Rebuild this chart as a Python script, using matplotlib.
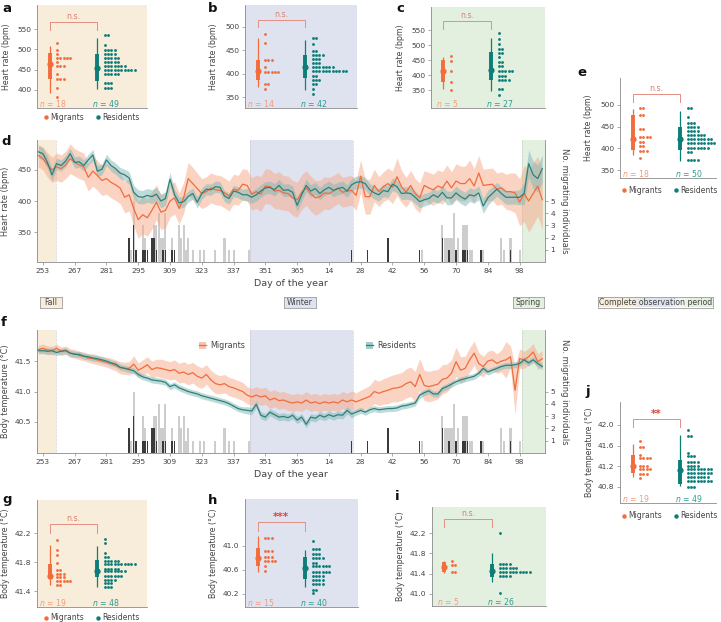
import numpy as np
import matplotlib
matplotlib.use("Agg")
import matplotlib.pyplot as plt
from matplotlib.transforms import blended_transform_factory
from matplotlib.colors import LinearSegmentedColormap
from matplotlib.lines import Line2D
from matplotlib.patches import Patch

# ---------------- DATA ----------------
# dot panels: row values and number of individuals per row; intervals = (point, q25, q75, lo, hi)
A_MIG_V = [516, 499, 488, 479, 468, 458, 439, 426, 404, 381]
A_MIG_C = [1, 1, 1, 5, 1, 3, 1, 3, 1, 1]
A_RES_V = [535, 510, 499, 489, 479, 469, 459, 449, 439, 418, 404]
A_RES_C = [2, 1, 4, 4, 5, 5, 7, 10, 5, 3, 3]
A_MIG_IV = (464, 427, 491, 391, 508)
A_RES_IV = (454, 422, 489, 403, 528)

B_MIG_V = [484, 466, 428, 414, 404, 377, 368]
B_MIG_C = [1, 1, 3, 1, 5, 2, 1]
B_RES_V = [475, 463, 449, 440, 432, 423, 414, 406, 396, 387, 378, 368, 357]
B_RES_C = [2, 1, 2, 4, 3, 3, 7, 11, 2, 3, 2, 1, 1]
B_MIG_IV = (406, 386, 428, 371, 476)
B_RES_IV = (414, 390, 439, 366, 472)

C_MIG_V = [463, 447, 414, 376, 350]
C_MIG_C = [1, 1, 1, 1, 1]
C_RES_V = [539, 519, 503, 487, 472, 459, 444, 430, 413, 397, 383, 352, 333]
C_RES_C = [1, 1, 1, 2, 2, 1, 2, 2, 5, 3, 4, 2, 1]
C_MIG_IV = (414, 378, 450, 352, 461)
C_RES_IV = (417, 383, 478, 347, 522)

E_MIG_V = [492, 478, 445, 426, 415, 405, 395, 377]
E_MIG_C = [2, 2, 2, 4, 2, 2, 3, 1]
E_RES_V = [492, 473, 458, 450, 441, 431, 421, 412, 402, 392, 373]
E_RES_C = [2, 1, 3, 4, 4, 6, 8, 9, 7, 2, 4]
E_MIG_IV = (421, 396, 477, 385, 491)
E_RES_IV = (421, 396, 450, 372, 485)

G_MIG_V = [42.10, 41.96, 41.90, 41.79, 41.69, 41.64, 41.60, 41.54, 41.48]
G_MIG_C = [1, 1, 1, 1, 2, 3, 3, 5, 2]
G_RES_V = [42.12, 42.06, 41.92, 41.87, 41.82, 41.77, 41.71, 41.67, 41.61, 41.55, 41.51, 41.45]
G_RES_C = [1, 1, 1, 2, 5, 10, 5, 7, 6, 4, 3, 3]
G_MIG_IV = (41.61, 41.56, 41.77, 41.48, 42.03)
G_RES_IV = (41.67, 41.59, 41.83, 41.46, 42.02)

H_MIG_V = [41.13, 40.91, 40.82, 40.74, 40.67, 40.58]
H_MIG_C = [3, 3, 3, 4, 1, 1]
H_RES_V = [41.08, 40.94, 40.87, 40.79, 40.72, 40.66, 40.57, 40.50, 40.43, 40.36, 40.27, 40.22]
H_RES_C = [1, 3, 3, 4, 2, 6, 6, 4, 4, 4, 2, 1]
H_MIG_IV = (40.79, 40.67, 40.96, 40.57, 41.16)
H_RES_IV = (40.63, 40.44, 40.82, 40.32, 40.93)

I_MIG_V = [41.66, 41.58, 41.43]
I_MIG_C = [1, 2, 2]
I_RES_V = [42.21, 41.59, 41.51, 41.43, 41.35, 41.01]
I_RES_C = [1, 4, 6, 10, 4, 1]
I_MIG_IV = (41.53, 41.43, 41.63, 41.41, 41.66)
I_RES_IV = (41.46, 41.33, 41.59, 41.23, 41.81)

J_MIG_V = [41.68, 41.58, 41.42, 41.36, 41.21, 41.14, 41.05, 40.97]
J_MIG_C = [1, 2, 1, 4, 3, 4, 3, 1]
J_RES_V = [41.90, 41.79, 41.45, 41.39, 41.29, 41.21, 41.15, 41.07, 40.99, 40.92, 40.79]
J_RES_C = [1, 2, 1, 3, 4, 4, 8, 8, 7, 8, 3]
J_MIG_IV = (41.21, 41.07, 41.42, 41.00, 41.63)
J_RES_IV = (41.12, 40.86, 41.32, 40.81, 41.81)

# time series (continuous day index; days > 365 belong to the next year)
DAYS = list(range(251, 474, 2))

HR_MIG = [473, 468, 458, 450, 455, 452, 458, 468, 462, 458,
          455, 438, 448, 441, 433, 436, 430, 426, 421, 406,
          410, 388, 370, 378, 373, 385, 398, 382, 385, 400,
          405, 388, 405, 436, 428, 420, 412, 415, 421, 418,
          417, 413, 408, 419, 417, 427, 425, 411, 415, 411,
          424, 423, 416, 417, 413, 412, 405, 402, 414, 421,
          412, 405, 407, 413, 412, 416, 421, 414, 416, 417,
          409, 440, 407, 407, 425, 415, 423, 428, 422, 439,
          423, 414, 425, 412, 405, 425, 421, 418, 424, 421,
          432, 421, 432, 428, 428, 436, 424, 445, 425, 426,
          427, 419, 421, 415, 415, 413, 398, 412, 400, 412,
          424, 402]
HR_MIG_W = [18, 18, 20, 20, 22, 22, 22, 24, 22, 22,
            22, 22, 24, 24, 24, 25, 25, 25, 25, 25,
            26, 28, 30, 30, 30, 30, 28, 28, 28, 26,
            26, 25, 25, 26, 26, 25, 24, 24, 24, 24,
            24, 24, 24, 24, 24, 25, 25, 26, 27, 28,
            28, 28, 28, 30, 28, 28, 28, 28, 28, 28,
            28, 28, 26, 26, 26, 25, 25, 24, 24, 24,
            24, 26, 28, 28, 26, 24, 24, 25, 26, 30,
            26, 24, 24, 24, 24, 24, 25, 25, 26, 26,
            26, 26, 28, 28, 28, 30, 28, 28, 26, 26,
            26, 26, 26, 28, 30, 32, 38, 45, 50, 50,
            48, 48]
HR_RES = [479, 476, 462, 442, 460, 457, 464, 476, 462, 463,
          457, 466, 474, 448, 451, 466, 457, 452, 445, 442,
          437, 414, 407, 406, 409, 407, 411, 400, 404, 435,
          410, 397, 399, 407, 412, 398, 412, 419, 418, 423,
          422, 408, 404, 416, 414, 410, 410, 406, 410, 416,
          421, 422, 418, 425, 417, 418, 414, 393, 410, 425,
          416, 420, 412, 418, 422, 417, 420, 422, 416, 426,
          430, 431, 428, 418, 413, 410, 417, 415, 427, 423,
          412, 413, 412, 406, 399, 402, 404, 410, 406, 414,
          405, 405, 413, 407, 403, 410, 408, 413, 392, 405,
          412, 419, 412, 406, 406, 406, 406, 412, 460, 442,
          436, 452]
HR_RES_W = [10, 10, 10, 10, 9, 9, 9, 9, 9, 9,
            9, 9, 9, 9, 9, 9, 9, 9, 9, 9,
            10, 11, 11, 11, 11, 11, 11, 11, 11, 11,
            9, 9, 9, 9, 9, 9, 9, 9, 9, 9,
            9, 9, 9, 9, 9, 9, 10, 10, 10, 10,
            10, 10, 10, 10, 10, 10, 10, 10, 10, 10,
            10, 10, 10, 10, 10, 10, 10, 10, 10, 10,
            10, 10, 10, 10, 10, 10, 10, 10, 10, 10,
            10, 10, 10, 10, 10, 10, 10, 10, 10, 11,
            11, 11, 11, 11, 11, 11, 11, 11, 12, 12,
            11, 11, 11, 11, 11, 11, 12, 18, 22, 22,
            22, 22]

TB_MIG = [41.69, 41.71, 41.68, 41.67, 41.71, 41.66, 41.68, 41.63, 41.62, 41.59,
          41.58, 41.55, 41.54, 41.52, 41.50, 41.48, 41.46, 41.43, 41.39, 41.38,
          41.38, 41.45, 41.35, 41.39, 41.44, 41.36, 41.39, 41.38, 41.36, 41.34,
          41.36, 41.30, 41.32, 41.28, 41.31, 41.25, 41.22, 41.28, 41.19, 41.13,
          41.11, 41.13, 41.08, 41.06, 41.03, 41.00, 40.94, 40.91, 40.94, 40.91,
          40.93, 40.86, 40.89, 40.85, 40.86, 40.83, 40.81, 40.83, 40.81, 40.86,
          40.81, 40.83, 40.80, 40.83, 40.81, 40.83, 40.81, 40.86, 40.83, 40.86,
          40.83, 40.86, 40.89, 40.92, 41.00, 40.97, 41.00, 41.02, 41.05, 41.06,
          41.08, 41.13, 41.16, 41.08, 41.28, 41.10, 41.08, 41.10, 41.12, 41.20,
          41.22, 41.30, 41.49, 41.35, 41.38, 41.52, 41.63, 41.46, 41.41, 41.50,
          41.52, 41.46, 41.50, 41.52, 41.57, 41.02, 41.54, 41.52, 41.57, 41.65,
          41.49, 41.54]
TB_MIG_W = [0.07, 0.07, 0.07, 0.07, 0.07, 0.07, 0.07, 0.07, 0.07, 0.07,
            0.07, 0.07, 0.08, 0.08, 0.08, 0.08, 0.09, 0.09, 0.10, 0.10,
            0.11, 0.14, 0.12, 0.13, 0.13, 0.14, 0.14, 0.15, 0.15, 0.15,
            0.16, 0.16, 0.17, 0.17, 0.17, 0.17, 0.17, 0.16, 0.16, 0.16,
            0.15, 0.15, 0.15, 0.15, 0.15, 0.15, 0.14, 0.14, 0.14, 0.14,
            0.14, 0.14, 0.14, 0.14, 0.14, 0.14, 0.14, 0.14, 0.14, 0.14,
            0.14, 0.14, 0.14, 0.14, 0.14, 0.14, 0.14, 0.14, 0.14, 0.15,
            0.15, 0.16, 0.17, 0.18, 0.20, 0.20, 0.21, 0.22, 0.22, 0.23,
            0.23, 0.24, 0.24, 0.25, 0.26, 0.25, 0.25, 0.25, 0.24, 0.24,
            0.23, 0.22, 0.24, 0.22, 0.20, 0.20, 0.20, 0.18, 0.17, 0.16,
            0.16, 0.16, 0.18, 0.30, 0.18, 0.40, 0.16, 0.14, 0.14, 0.14,
            0.13, 0.13]
TB_RES = [41.67, 41.67, 41.66, 41.67, 41.64, 41.66, 41.67, 41.63, 41.61, 41.61,
          41.58, 41.57, 41.55, 41.54, 41.52, 41.50, 41.47, 41.45, 41.40, 41.38,
          41.36, 41.34, 41.28, 41.24, 41.22, 41.19, 41.18, 41.17, 41.15, 41.08,
          41.11, 41.06, 41.03, 41.00, 40.98, 40.96, 40.93, 40.91, 40.89, 40.87,
          40.85, 40.83, 40.80, 40.76, 40.72, 40.70, 40.69, 40.68, 40.79, 40.61,
          40.58, 40.66, 40.62, 40.58, 40.59, 40.57, 40.61, 40.53, 40.58, 40.46,
          40.58, 40.56, 40.61, 40.58, 40.62, 40.59, 40.62, 40.61, 40.69, 40.63,
          40.66, 40.69, 40.66, 40.70, 40.72, 40.70, 40.71, 40.72, 40.72, 40.73,
          40.76, 40.77, 40.79, 40.81, 40.94, 40.98, 41.01, 40.96, 40.96, 41.05,
          41.08, 41.12, 41.16, 41.19, 41.21, 41.23, 41.25, 41.30, 41.38, 41.32,
          41.35, 41.38, 41.41, 41.43, 41.43, 41.44, 41.46, 41.52, 41.47, 41.52,
          41.46, 41.41]
TB_RES_W = [0.05, 0.05, 0.05, 0.05, 0.05, 0.05, 0.05, 0.05, 0.05, 0.05,
            0.05, 0.05, 0.05, 0.05, 0.05, 0.05, 0.05, 0.05, 0.05, 0.05,
            0.05, 0.05, 0.05, 0.05, 0.05, 0.05, 0.05, 0.05, 0.05, 0.05,
            0.05, 0.05, 0.05, 0.05, 0.05, 0.05, 0.05, 0.05, 0.05, 0.05,
            0.05, 0.05, 0.05, 0.05, 0.05, 0.05, 0.06, 0.06, 0.06, 0.06,
            0.06, 0.06, 0.06, 0.06, 0.06, 0.06, 0.06, 0.06, 0.06, 0.06,
            0.06, 0.06, 0.06, 0.06, 0.06, 0.06, 0.06, 0.06, 0.06, 0.06,
            0.05, 0.05, 0.05, 0.05, 0.05, 0.05, 0.05, 0.05, 0.05, 0.05,
            0.05, 0.05, 0.05, 0.05, 0.05, 0.05, 0.05, 0.05, 0.05, 0.05,
            0.05, 0.05, 0.05, 0.05, 0.05, 0.05, 0.05, 0.05, 0.05, 0.05,
            0.05, 0.05, 0.05, 0.05, 0.05, 0.05, 0.05, 0.05, 0.05, 0.05,
            0.05, 0.05]

# number of migrating individuals per day
DARK_DAYS = [291, 293, 294, 297, 298, 299, 301, 302, 303, 306, 307, 310, 311,
             389, 396, 405, 419, 429, 432, 435, 438, 439, 440, 446, 459]
DARK_N = [2, 3, 1, 1, 1, 1, 2, 2, 1, 1, 1, 1, 1,
          1, 1, 2, 1, 2, 1, 1, 1, 1, 1, 1, 1]
LIGHT_DAYS = [292, 293, 297, 298, 302, 303, 304, 305, 306, 307,
              310, 313, 314, 315, 316, 317, 319, 322, 324, 329,
              333, 335, 337, 344, 420, 429, 430, 431, 432, 433,
              434, 436, 438, 439, 440, 441, 442, 446, 447, 455,
              456, 459, 463]
LIGHT_N = [1, 5, 3, 2, 3, 3, 4, 2, 2, 4,
           2, 3, 2, 3, 1, 2, 1, 1, 1, 1,
           2, 1, 1, 1, 1, 3, 2, 2, 2, 2,
           4, 2, 3, 3, 3, 1, 1, 1, 1, 2,
           1, 2, 1]

XTICK_LABELS = ['253', '267', '281', '295', '309', '323', '337', '351', '365',
                '14', '28', '42', '56', '70', '84', '98']
SEASON_SPANS = [(250.5, 258.7), (344.2, 389.5), (464.0, 474.2)]

# ---------------- STYLE ----------------
plt.rcParams['font.family'] = ['DejaVu Sans']
plt.rcParams['mathtext.fontset'] = 'dejavusans'

MIG = '#F26C3C'
MIG_T = '#F29C7C'
MIG_BAND = '#F7A887'
RES = '#0C7E77'
RES_T = '#2E9C92'
RES_LINE = '#2F8079'
RES_BAND = '#7FB8B6'
FALL = '#F7EDDA'
WINTER = '#DFE3F0'
SPRING = '#E4F0DF'
SPINE = '#8a8a8a'
TXT = '#444444'
BRK = '#E38F82'
SIG_NS = '#D9806F'
SIG_STAR = '#D9473F'

W, H = 721, 622
fig = plt.figure(figsize=(W / 100, H / 100), dpi=100)

MX, DOT_M, RX, DOT_R, DOT_STEP = 12.5, 20.0, 60.0, 67.5, 3.35


def px_axes(L, T, R, B):
    return fig.add_axes([L / W, 1 - B / H, (R - L) / W, (B - T) / H])


def letter(x, y, s):
    fig.text(x / W, 1 - y / H, s, ha='left', va='center', fontsize=9.5,
             fontweight='bold', color='#111111')


def style_ax(ax):
    for side in ['top', 'right']:
        ax.spines[side].set_visible(False)
    for side in ['left', 'bottom']:
        ax.spines[side].set_color(SPINE)
        ax.spines[side].set_linewidth(0.6)
    ax.tick_params(axis='both', length=2.5, width=0.5, color=SPINE,
                   labelsize=5.4, labelcolor=TXT, pad=1.5)


def dot_panel(box, bg, ylim, yticks, fmt, ylabel, ylab_x, mv, mc, rv, rc, miv, riv,
              nm, nr, sig, br_y, br_leg):
    L, T, R, B = box
    ax = px_axes(L, T, R, B)
    ax.set_facecolor(bg if bg else 'white')
    style_ax(ax)
    ax.set_xlim(0, R - L)
    ax.set_ylim(*ylim)
    ax.set_xticks([])
    ax.set_yticks(yticks)
    ax.set_yticklabels([fmt.format(t) for t in yticks])
    ax.set_ylabel(ylabel, fontsize=5.7, color=TXT)
    ax.yaxis.set_label_coords((ylab_x - L) / (R - L), 0.5)
    for x0, vals, cnts, col in [(DOT_M, mv, mc, MIG), (DOT_R, rv, rc, RES)]:
        xs, ys = [], []
        for v, c in zip(vals, cnts):
            for k in range(c):
                xs.append(x0 + k * DOT_STEP)
                ys.append(v)
        ax.scatter(xs, ys, s=4.2, color=col, linewidths=0, zorder=3)
    for x, iv, col in [(MX, miv, MIG), (RX, riv, RES)]:
        p, tlo, thi, lo, hi = iv
        ax.plot([x, x], [lo, hi], color=col, lw=0.9, solid_capstyle='butt', zorder=3)
        ax.plot([x, x], [tlo, thi], color=col, lw=2.8, solid_capstyle='butt', zorder=3)
        ax.plot([x], [p], 'o', color=col, ms=4.5, mec='none', zorder=4)
    tr = blended_transform_factory(ax.transData, ax.transAxes)
    h = B - T
    yb = (B - br_y) / h
    yl = (B - br_leg) / h
    ax.plot([MX, MX, RX, RX], [yl, yb, yb, yl], transform=tr, color=BRK, lw=0.7,
            clip_on=False)
    if sig == 'n.s.':
        ax.text((MX + RX) / 2, yb + 1.2 / h, sig, transform=tr, ha='center', va='bottom',
                fontsize=5.6, color=SIG_NS)
    else:
        ax.text((MX + RX) / 2, yb + 0.2 / h, sig, transform=tr, ha='center', va='bottom',
                fontsize=7.5, color=SIG_STAR, fontweight='bold')
    ax.text(MX + 3.5, 4.5 / h, r'$\mathit{n}$ = ' + str(nm), transform=tr, ha='center',
            va='center', fontsize=5.6, color=MIG_T)
    ax.text(RX + 8.5, 4.5 / h, r'$\mathit{n}$ = ' + str(nr), transform=tr, ha='center',
            va='center', fontsize=5.6, color=RES_T)
    return ax


def dot_legend(cx, cy):
    hs = [Line2D([], [], marker='o', ls='', color=MIG, ms=3.2, mec='none'),
          Line2D([], [], marker='o', ls='', color=RES, ms=3.2, mec='none')]
    fig.legend(hs, ['Migrants', 'Residents'], loc='center',
               bbox_to_anchor=(cx / W, 1 - cy / H), ncol=2, frameon=False,
               fontsize=5.5, handletextpad=0.1, columnspacing=1.3, handlelength=1.0,
               borderpad=0, borderaxespad=0, labelcolor=TXT)


def ts_panel(box, ylim, yticks, fmt, ylabel, mig, migw, res, resw):
    L, T, R, B = box
    ax = px_axes(L, T, R, B)
    ax2 = ax.twinx()
    ax.set_zorder(ax2.get_zorder() + 1)
    ax.patch.set_visible(False)
    days = np.array(DAYS, dtype=float)
    mig = np.array(mig); migw = np.array(migw)
    res = np.array(res); resw = np.array(resw)
    xlim = (250.4, 474.2)
    # seasons and migration counts on the back axis
    for (a, b), c in zip(SEASON_SPANS, [FALL, WINTER, SPRING]):
        ax2.axvspan(a, b, color=c, lw=0, zorder=0)
        for e in (a, b):
            if e < xlim[1]:
                ax2.axvline(e, color='#bdbdbd', lw=0.5, ls=(0, (1, 1)), zorder=0.5)
    ax2.bar(LIGHT_DAYS, LIGHT_N, width=0.9, color='#cdcdcd', lw=0, zorder=1)
    ax2.bar(DARK_DAYS, DARK_N, width=0.7, color='#3a3a3a', lw=0, zorder=2)
    ax2.set_ylim(0, 10)
    ax2.set_yticks([1, 2, 3, 4, 5])
    for side in ['top', 'left', 'bottom']:
        ax2.spines[side].set_visible(False)
    ax2.spines['right'].set_color(SPINE)
    ax2.spines['right'].set_linewidth(0.6)
    ax2.tick_params(axis='y', length=2.5, width=0.5, color=SPINE, labelsize=5.4,
                    labelcolor=TXT, pad=1.5)
    ax2.set_ylabel('No. migrating individuals', rotation=270, va='bottom',
                   fontsize=6.0, color=TXT)
    ax2.yaxis.set_label_coords((560 - L) / (R - L), 0.5)
    # lines
    ax.fill_between(days, mig - migw, mig + migw, color=MIG_BAND, alpha=0.5, lw=0, zorder=1)
    ax.fill_between(days, res - resw, res + resw, color=RES_BAND, alpha=0.5, lw=0, zorder=2)
    ax.plot(days, mig, color=MIG, lw=0.9, zorder=3)
    ax.plot(days, res, color=RES_LINE, lw=0.9, zorder=4)
    style_ax(ax)
    ax.set_xlim(*xlim)
    ax2.set_xlim(*xlim)
    ax.set_ylim(*ylim)
    ax.set_yticks(yticks)
    ax.set_yticklabels([fmt.format(t) for t in yticks])
    pos = [int(s) + (365 if int(s) < 200 else 0) for s in XTICK_LABELS]
    ax.set_xticks(pos)
    ax.set_xticklabels(XTICK_LABELS)
    ax.set_xlabel('Day of the year', fontsize=6.8, color=TXT, labelpad=4)
    ax.set_ylabel(ylabel, fontsize=5.9, color=TXT)
    ax.yaxis.set_label_coords((10 - L) / (R - L), 0.5)
    return ax


# ---------------- PANELS ----------------
HR = 'Heart rate (bpm)'
TB = 'Body temperature (\u00b0C)'

dot_panel((37, 5, 147, 108), FALL, (355, 610), [400, 450, 500, 550], '{:.0f}', HR, 11,
          A_MIG_V, A_MIG_C, A_RES_V, A_RES_C, A_MIG_IV, A_RES_IV, 18, 49, 'n.s.', 22, 30)
dot_panel((245, 5, 357, 108), WINTER, (327, 546), [350, 400, 450, 500], '{:.0f}', HR, 218,
          B_MIG_V, B_MIG_C, B_RES_V, B_RES_C, B_MIG_IV, B_RES_IV, 14, 42, 'n.s.', 20, 27)
dot_panel((431, 7, 545, 108), SPRING, (290, 627), [350, 400, 450, 500, 550], '{:.0f}', HR, 405,
          C_MIG_V, C_MIG_C, C_RES_V, C_RES_C, C_MIG_IV, C_RES_IV, 5, 27, 'n.s.', 21, 29)
dot_panel((620, 78, 716, 178), None, (332, 562), [350, 400, 450, 500], '{:.0f}', HR, 593,
          E_MIG_V, E_MIG_C, E_RES_V, E_RES_C, E_MIG_IV, E_RES_IV, 18, 50, 'n.s.', 94, 102)
dot_panel((37, 500, 147, 607), FALL, (41.18, 42.655), [41.4, 41.8, 42.2], '{:.1f}', TB, 10,
          G_MIG_V, G_MIG_C, G_RES_V, G_RES_C, G_MIG_IV, G_RES_IV, 19, 48, 'n.s.', 524, 533)
dot_panel((245, 499, 358, 607), WINTER, (39.98, 41.78), [40.2, 40.6, 41.0], '{:.1f}', TB, 218,
          H_MIG_V, H_MIG_C, H_RES_V, H_RES_C, H_MIG_IV, H_RES_IV, 15, 40, '***', 522, 531)
dot_panel((432, 507, 546, 606), SPRING, (40.76, 42.72), [41.0, 41.4, 41.8, 42.2], '{:.1f}', TB, 405,
          I_MIG_V, I_MIG_C, I_RES_V, I_RES_C, I_MIG_IV, I_RES_IV, 5, 26, 'n.s.', 519, 527)
dot_panel((620, 402, 716, 503), None, (40.49, 42.44), [40.8, 41.2, 41.6, 42.0], '{:.1f}', TB, 594,
          J_MIG_V, J_MIG_C, J_RES_V, J_RES_C, J_MIG_IV, J_RES_IV, 19, 49, '**', 419, 427)

ts_panel((37, 140, 545, 262), (302, 498), [350, 400, 450], '{:.0f}', HR,
         HR_MIG, HR_MIG_W, HR_RES, HR_RES_W)
ts_panel((37, 330, 545, 453), (39.99, 42.01), [40.5, 41.0, 41.5], '{:.1f}', TB,
         TB_MIG, TB_MIG_W, TB_RES, TB_RES_W)

# legend for f
for x0, lab, band, line in [(199, 'Migrants', MIG_BAND, MIG), (366, 'Residents', RES_BAND, RES_LINE)]:
    h = (Patch(facecolor=band, alpha=0.7, lw=0), Line2D([], [], color=line, lw=0.9))
    fig.legend([h], [lab], loc='center left', bbox_to_anchor=(x0 / W, 1 - 346 / H),
               frameon=False, fontsize=5.8, handlelength=0.9, handleheight=0.9,
               handletextpad=0.5, borderpad=0, borderaxespad=0, labelcolor=TXT)

dot_legend(91, 117)
dot_legend(669, 190)
dot_legend(91, 618)
dot_legend(669, 516)

# season labels
def season_box(x0, x1, text, fc=None, gradient=False):
    ax = px_axes(x0, 296.5, x1, 307.5)
    ax.set_xlim(0, 1)
    ax.set_ylim(0, 1)
    if gradient:
        cmap = LinearSegmentedColormap.from_list(
            'obs', [(0.0, FALL), (0.28, FALL), (0.42, WINTER), (0.6, WINTER),
                    (0.72, '#F2F5F0'), (0.82, SPRING), (1.0, SPRING)])
        ax.imshow(np.linspace(0, 1, 256).reshape(1, -1), aspect='auto', cmap=cmap,
                  extent=(0, 1, 0, 1))
    else:
        ax.set_facecolor(fc)
    for s in ax.spines.values():
        s.set_color('#9d9d9d')
        s.set_linewidth(0.6)
    ax.set_xticks([])
    ax.set_yticks([])
    ax.text(0.5, 0.47, text, ha='center', va='center', fontsize=5.6, color=TXT)


season_box(40, 62, 'Fall', FALL)
season_box(284, 316, 'Winter', WINTER)
season_box(513, 544, 'Spring', SPRING)
season_box(598, 713, 'Complete observation period', gradient=True)

# panel letters
for s, x, y in [('a', 2, 8), ('b', 208, 8), ('c', 396, 8), ('d', 1, 141), ('e', 577, 72),
                ('f', 1, 323), ('g', 2, 500), ('h', 208, 500), ('i', 395, 497), ('j', 585, 392)]:
    letter(x, y, s)

fig.savefig('out.png', dpi=100)
